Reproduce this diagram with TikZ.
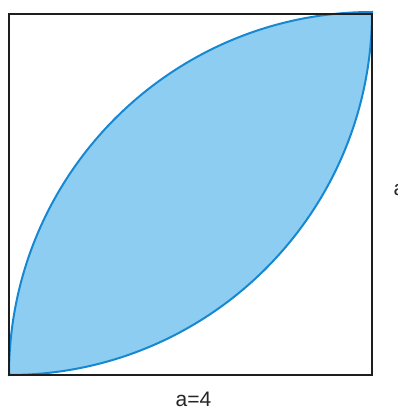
\documentclass[tikz,border=0pt]{standalone}
\usepackage{fontspec}
\setmainfont{Liberation Sans}
\definecolor{lensfill}{HTML}{8DCDF2}
\definecolor{lensline}{HTML}{1688D2}
\definecolor{frame}{HTML}{1E1E1E}
\tikzset{
  lbl/.style={font=\fontsize{21}{24}\selectfont, text=black!85, inner sep=0pt},
  framebox/.style={draw=frame, line width=2.4pt},
  lens/.style={fill=lensfill, draw=lensline, line width=2pt}
}
\begin{document}
\begin{tikzpicture}[x=1pt,y=1pt]
\useasboundingbox[fill=white] (0,0) rectangle (397,407);
\coordinate (BL) at (9,32);
\coordinate (TR) at (372,393);
\coordinate (TL) at (9,393);
\coordinate (BR) at (372,32);
\path[lens] (BL) arc[start angle=-90,end angle=0,radius=363]
  arc[start angle=90,end angle=180,radius=363] -- cycle;
\draw[framebox] (BL) rectangle (TR);
\node[lbl, anchor=base west] (sidea) at (393.5,211) {a};
\node[lbl, anchor=base] (bottoma) at (193.5,1) {a=4};
\end{tikzpicture}
\end{document}
